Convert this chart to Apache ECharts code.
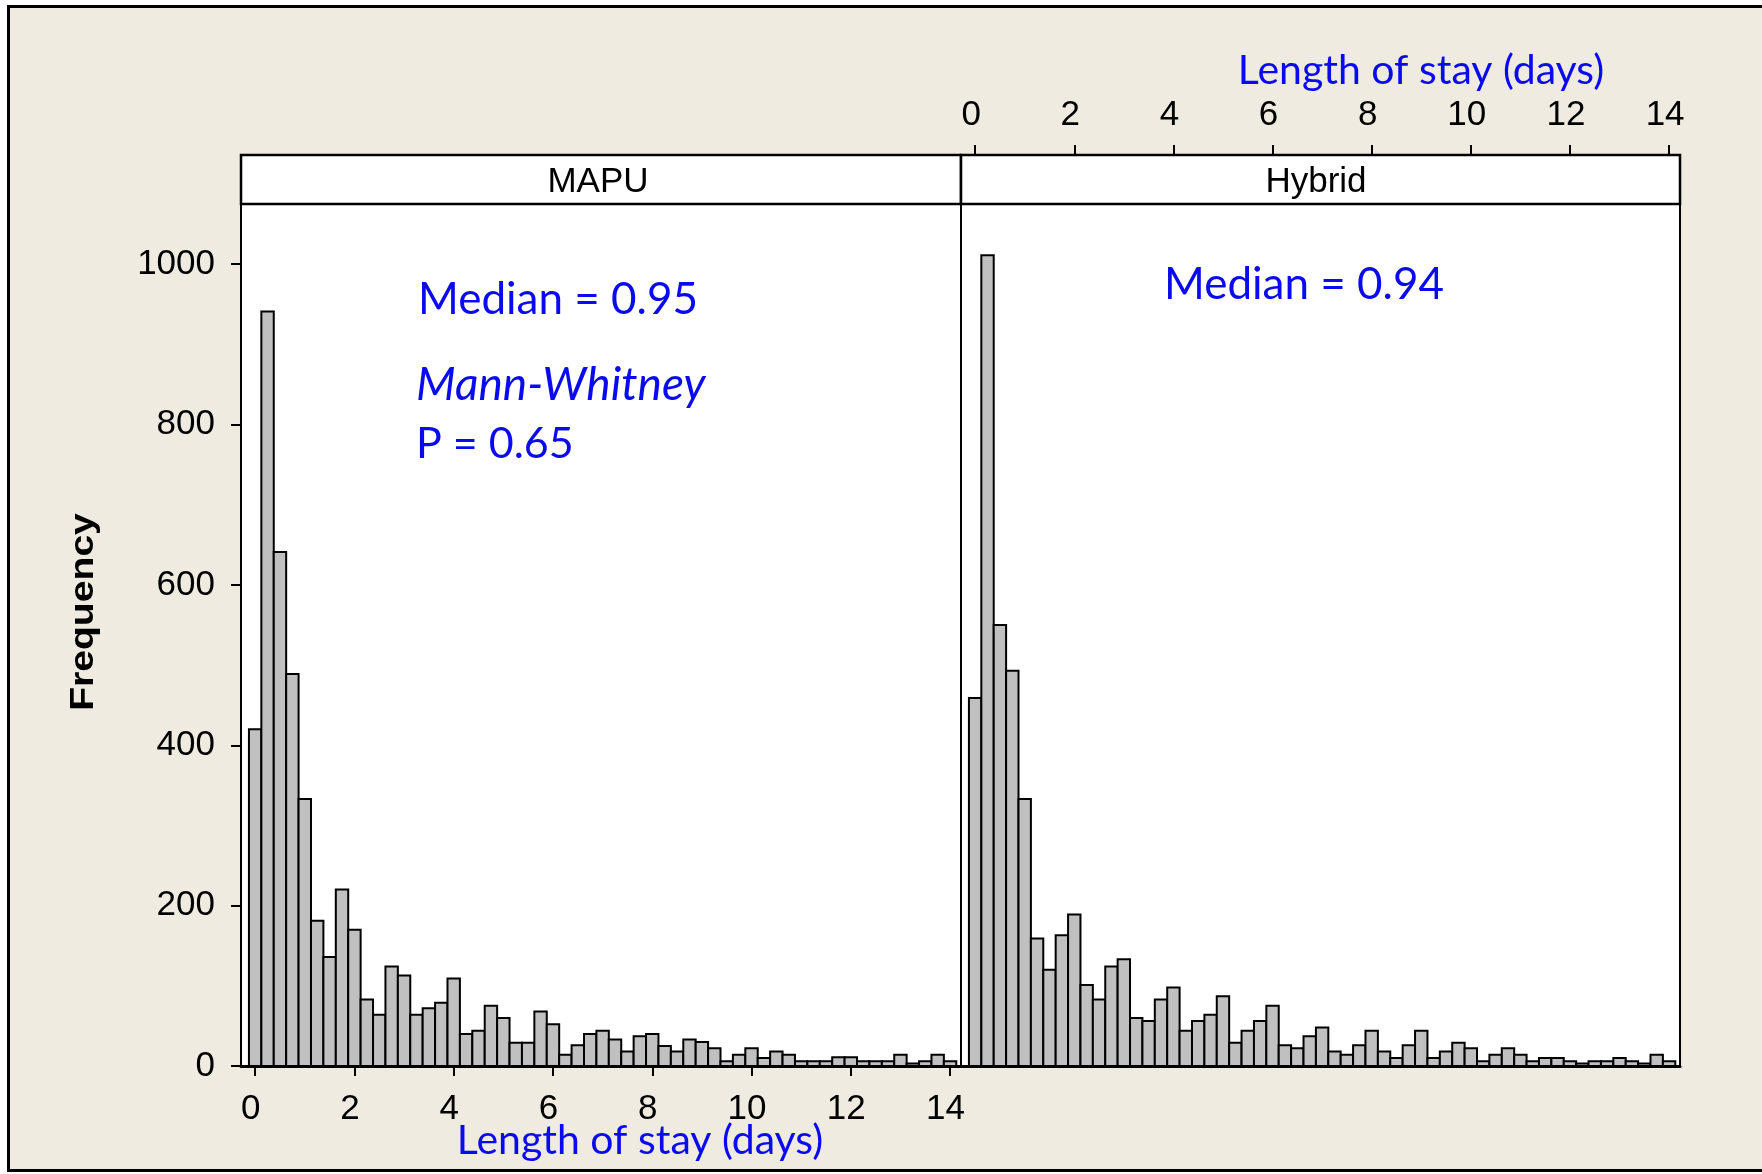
<!DOCTYPE html>
<html><head><meta charset="utf-8">
<script src="https://cdn.jsdelivr.net/npm/echarts@6/dist/echarts.min.js"></script>
<style>
html,body{margin:0;padding:0;background:#fff;overflow:hidden;}
#frame{position:absolute;left:7px;top:5px;width:1800px;height:1167px;border:3px solid #000;background:#EFEBE1;box-sizing:border-box;}
#chart{position:absolute;left:0;top:0;width:1762px;height:1174px;}
</style></head>
<body><div id="frame"></div><div id="chart"></div>
<script>
// ---- data ----
const binWidth = 0.25; // days per histogram bin
const binCenters = [0,0.25,0.5,0.75,1,1.25,1.5,1.75,2,2.25,2.5,2.75,3,3.25,3.5,3.75,4,4.25,4.5,4.75,5,5.25,5.5,5.75,6,6.25,6.5,6.75,7,7.25,7.5,7.75,8,8.25,8.5,8.75,9,9.25,9.5,9.75,10,10.25,10.5,10.75,11,11.25,11.5,11.75,12,12.25,12.5,12.75,13,13.25,13.5,13.75,14];
const mapuFreq = [420,941,641,489,333,181,136,220,170,83,64,124,113,64,72,79,109,40,44,75,60,29,29,68,52,14,26,40,44,33,18,37,40,25,18,33,30,22,6,14,22,10,18,14,6,6,6,11,11,6,6,6,14,3,6,14,6];
const hybridFreq = [459,1011,550,493,333,159,120,163,189,101,83,124,133,60,56,83,98,44,56,64,87,29,44,56,75,26,22,37,48,18,14,26,44,18,10,26,44,10,18,29,22,6,14,22,14,6,10,10,6,3,6,6,10,6,3,14,6];
const xTicks = [0,2,4,6,8,10,12,14];
const yTicks = [0,200,400,600,800,1000];
const panelNames = ['MAPU','Hybrid'];
const xTitle = 'Length of stay (days)';
const yTitle = 'Frequency';
const notes = ['Median = 0.95','Mann-Whitney','P = 0.65','Median = 0.94'];

// ---- chart ----
const X_MIN = -0.285, X_MAX = 14.22, Y_MIN = 0, Y_MAX = 1075;
const BLUE = '#0a0af0';
const tickFont = {color:'#000', fontFamily:'Liberation Sans', fontSize:35, formatter:(v)=>String(v)};

function renderBar(params, api){
  const x = api.value(0), y = api.value(1);
  const p0 = api.coord([x - binWidth/2, y]);
  const p1 = api.coord([x + binWidth/2, 0]);
  return {type:'rect', shape:{x:p0[0], y:p0[1], width:p1[0]-p0[0], height:p1[1]-p0[1]},
    style:{fill:'#C0C0C0', stroke:'#000', lineWidth:2}};
}

const chart = echarts.init(document.getElementById('chart'), null, {renderer:'canvas'});
const grids = [
  {left:241, top:204, width:720, height:862, show:true, backgroundColor:'#fff', borderColor:'#000', borderWidth:2},
  {left:961, top:204, width:719, height:862, show:true, backgroundColor:'#fff', borderColor:'#000', borderWidth:2}
];
const option = {
  backgroundColor:'transparent',
  animation:false,
  grid: grids,
  xAxis:[
    {gridIndex:0, type:'value', position:'bottom', min:X_MIN, max:X_MAX,
     axisLine:{show:true, onZero:false, lineStyle:{color:'#000', width:3}},
     axisTick:{show:true, customValues:xTicks, length:10, inside:false, lineStyle:{color:'#000', width:2}},
     axisLabel:Object.assign({customValues:xTicks, margin:26, padding:[0,9,0,0]}, tickFont),
     splitLine:{show:false}},
    {gridIndex:1, type:'value', position:'bottom', min:X_MIN, max:X_MAX,
     axisLine:{show:true, onZero:false, lineStyle:{color:'#000', width:3}},
     axisTick:{show:false}, axisLabel:{show:false}, splitLine:{show:false}},
    {gridIndex:1, type:'value', position:'top', offset:49, min:X_MIN, max:X_MAX,
     axisLine:{show:true, onZero:false, lineStyle:{color:'#000', width:2}},
     axisTick:{show:true, customValues:xTicks, length:10, inside:false, lineStyle:{color:'#000', width:2}},
     axisLabel:Object.assign({customValues:xTicks, margin:22, padding:[0,8,0,0]}, tickFont),
     splitLine:{show:false}}
  ],
  yAxis:[
    {gridIndex:0, type:'value', min:Y_MIN, max:Y_MAX,
     axisLine:{show:true, onZero:false, lineStyle:{color:'#000', width:2}},
     axisTick:{show:true, customValues:yTicks, length:10, inside:false, lineStyle:{color:'#000', width:2}},
     axisLabel:Object.assign({customValues:yTicks, margin:26}, tickFont),
     splitLine:{show:false}},
    {gridIndex:1, type:'value', min:Y_MIN, max:Y_MAX,
     axisLine:{show:true, onZero:false, lineStyle:{color:'#000', width:2}},
     axisTick:{show:false}, axisLabel:{show:false}, splitLine:{show:false}}
  ],
  series:[
    {type:'custom', name:panelNames[0], xAxisIndex:0, yAxisIndex:0, renderItem:renderBar,
     data: binCenters.map((c,i)=>[c, mapuFreq[i]]), z:5},
    {type:'custom', name:panelNames[1], xAxisIndex:1, yAxisIndex:1, renderItem:renderBar,
     data: binCenters.map((c,i)=>[c, hybridFreq[i]]), z:5}
  ],
  graphic:[
    {type:'rect', z:20, shape:{x:241, y:155, width:720, height:49}, style:{fill:'#fff', stroke:'#000', lineWidth:2.5}},
    {type:'rect', z:20, shape:{x:961, y:155, width:719, height:49}, style:{fill:'#fff', stroke:'#000', lineWidth:2.5}},
    {type:'text', z:21, x:598, y:182, style:{text:panelNames[0], fill:'#000', font:'35px "Liberation Sans"', textAlign:'center', textVerticalAlign:'middle'}},
    {type:'text', z:21, x:1316, y:182, style:{text:panelNames[1], fill:'#000', font:'35px "Liberation Sans"', textAlign:'center', textVerticalAlign:'middle'}},
    {type:'text', z:21, x:640, y:1141, style:{text:xTitle, fill:BLUE, font:'41px Lato', textAlign:'center', textVerticalAlign:'middle'}},
    {type:'text', z:21, x:1421, y:71, style:{text:xTitle, fill:BLUE, font:'41px Lato', textAlign:'center', textVerticalAlign:'middle'}},
    {type:'text', z:21, x:84, y:612, rotation:Math.PI/2, scaleX:1.15, style:{text:yTitle, fill:'#000', font:'bold 34px "Liberation Sans"', textAlign:'center', textVerticalAlign:'middle'}},
    {type:'text', z:21, x:418, y:300, style:{text:notes[0], fill:BLUE, font:'44px Lato', textAlign:'left', textVerticalAlign:'middle'}},
    {type:'text', z:21, x:416, y:385, style:{text:notes[1], fill:BLUE, font:'italic 46px Lato', textAlign:'left', textVerticalAlign:'middle'}},
    {type:'text', z:21, x:416, y:444, style:{text:notes[2], fill:BLUE, font:'43px Lato', textAlign:'left', textVerticalAlign:'middle'}},
    {type:'text', z:21, x:1164, y:285, style:{text:notes[3], fill:BLUE, font:'44px Lato', textAlign:'left', textVerticalAlign:'middle'}}
  ]
};
chart.setOption(option);
</script></body></html>
